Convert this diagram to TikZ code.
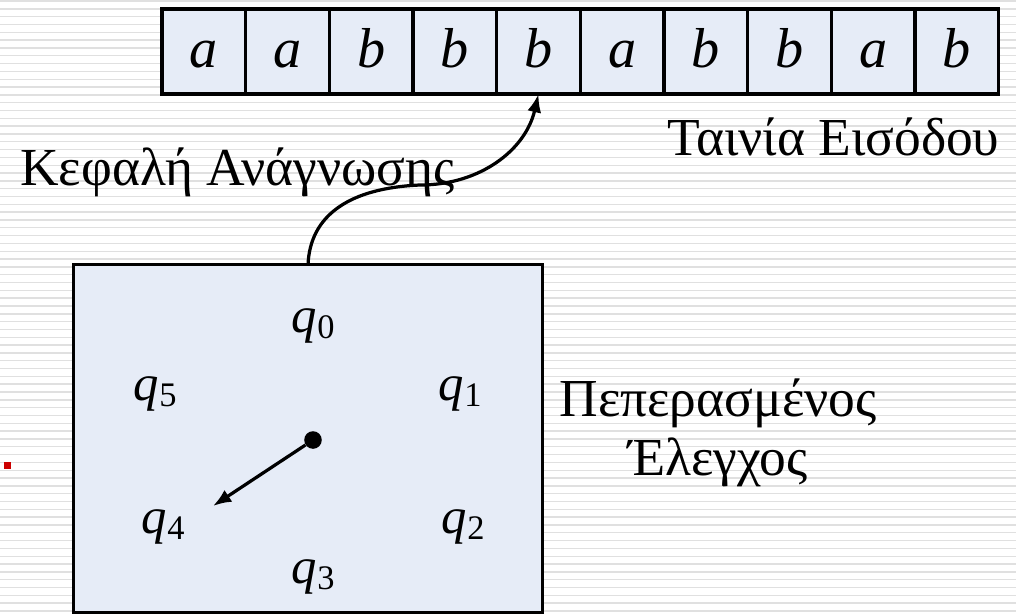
\documentclass[tikz,border=0pt]{standalone}
\usepackage{fontspec}
\usepackage{graphicx}
\usepackage{xcolor}
\usepackage{tikz}
\usetikzlibrary{arrows.meta, positioning}

\setmainfont{Liberation Serif}

\definecolor{panel}{RGB}{230,236,247}
\definecolor{stripeline}{RGB}{224,224,224}
\definecolor{bulletred}{RGB}{204,0,0}

% state name with a lowered small digit
\newcommand{\st}[1]{\textit{q}\kern0.5pt\raisebox{-0.12em}{\scalebox{0.68}{#1}}}

\begin{document}
\begin{tikzpicture}[
    x=0.025cm, y=-0.025cm,
    node distance=0pt,
    cell/.style={rectangle, draw, line width=2.3pt, fill=panel, minimum width=59.5pt, minimum height=60.5pt, outer sep=0pt, inner sep=0pt, text height=29pt, text depth=6pt, font=\fontsize{40}{44}\selectfont\itshape},
    panelbox/.style={rectangle, draw, line width=2.3pt, fill=panel, minimum width=333pt, minimum height=247pt, outer sep=0pt},
    caption/.style={inner sep=0pt, font=\fontsize{38}{41.3}\selectfont},
    state/.style={inner sep=0pt, anchor=base west, font=\fontsize{36}{40}\selectfont},
    stripe/.style={stripeline, line width=1pt},
    arrow/.style={-{Latex[length=13pt, width=10pt]}, line width=2.3pt}
]

% Background
\useasboundingbox (0,0) rectangle (1016,614);
\fill[white] (0,0) rectangle (1016,614);
\foreach \k in {0,...,78}
    \draw[stripe] (0,\k*7.82+1) -- (1016,\k*7.82+1);
\node[fill=bulletred, minimum size=5pt, inner sep=0pt] (bullet) at (7.5,465.5) {};

% Input tape
\node[cell] (c1) at (203.8,51.5) {a};
\node[cell, right=of c1] (c2) {a};
\node[cell, right=of c2] (c3) {b};
\node[cell, right=of c3] (c4) {b};
\node[cell, right=of c4] (c5) {b};
\node[cell, right=of c5] (c6) {a};
\node[cell, right=of c6] (c7) {b};
\node[cell, right=of c7] (c8) {b};
\node[cell, right=of c8] (c9) {a};
\node[cell, right=of c9] (c10) {b};

% Captions
\node[caption, anchor=base west] (tapename) at (667,155) {Ταινία Εισόδου};
\node[caption, anchor=base west] (headname) at (20,185) {Κεφαλή Ανάγνωσης};
\node[caption, anchor=base, align=center] (ctrlname) at (718,475) {Πεπερασμένος\\Έλεγχος};

% Finite control
\node[panelbox] (ctrl) at (308,438.5) {};
\node[state] (q0) at (291,332) {\st{0}};
\node[state] (q1) at (438,400) {\st{1}};
\node[state] (q2) at (441,533) {\st{2}};
\node[state] (q3) at (291,583) {\st{3}};
\node[state] (q4) at (141,533) {\st{4}};
\node[state] (q5) at (133,400) {\st{5}};

% Pointer
\node[circle, fill, minimum size=12.5pt, inner sep=0pt] (hand) at (313,440) {};
\coordinate (tip) at (213,506);
\draw[arrow] (hand) -- (tip);

% Read head
\coordinate (bend) at (420,185);
\draw[arrow] (ctrl.north) .. controls +(2,-50) and +(-70,3) .. (bend)
    .. controls +(60,0) and +(-13,56) .. (c5.south);

\end{tikzpicture}
\end{document}
